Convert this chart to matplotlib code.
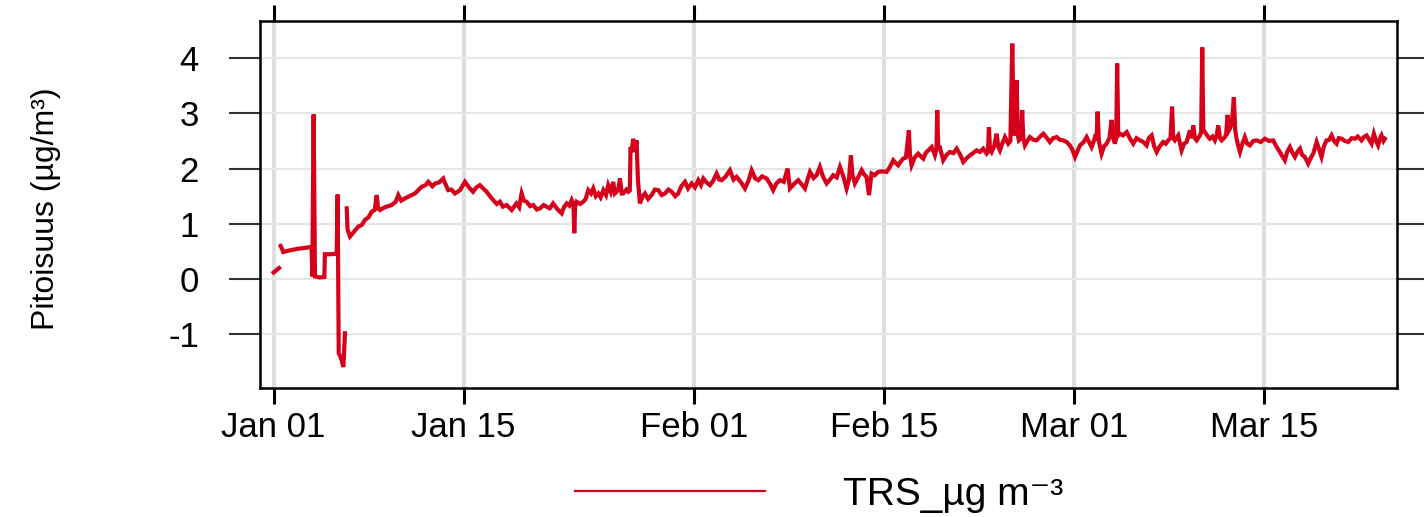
import numpy as np
import pandas as pd
import matplotlib
matplotlib.use("Agg")
import matplotlib.pyplot as plt
import matplotlib.dates as mdates
from matplotlib.lines import Line2D

# --- data (days after Jan 01, concentration) -----------------------------
start = "2021-01-01"
days = [
    0.0, 0.2, 0.4, 0.46,
    0.52, 0.62, 0.71, 1.0, 1.4, 1.8, 2.2, 2.68, 2.8, 2.85, 2.95, 3.05, 3.4, 3.74, 3.78, 4.2,
    4.65, 4.72, 4.80, 5.0, 5.14, 5.26, 5.32,
    5.39, 5.45, 5.63, 5.9, 6.24, 6.5, 6.73, 7.0, 7.23, 7.45, 7.6, 7.7, 7.84, 8.2, 8.7, 9.0,
    9.19, 9.4, 9.68, 10.0, 10.42, 10.7, 10.91, 11.2, 11.4, 11.7, 11.9, 12.2, 12.5, 12.7, 12.87,
    13.1, 13.37, 13.74, 14.1, 14.4, 14.7, 14.95, 15.2, 15.45, 15.7, 15.95, 16.19, 16.45, 16.68,
    16.9, 17.18, 17.55, 17.9, 18.1, 18.28, 18.45, 18.65, 18.9, 19.14, 19.4, 19.63, 19.9, 20.13,
    20.35, 20.6, 20.9, 21.23, 21.4, 21.6, 21.8, 21.97, 22.1, 22.16, 22.22, 22.33, 22.6, 22.82,
    23.0, 23.19, 23.4, 23.56, 23.75, 23.93, 24.1, 24.3, 24.5, 24.66, 24.85, 25.03, 25.15, 25.28,
    25.4, 25.53, 25.65, 25.77, 26.0, 26.14, 26.25, 26.31, 26.4, 26.5, 26.65, 26.75, 26.85, 27.0,
    27.2, 27.37, 27.6, 27.86, 28.1, 28.35, 28.6, 28.84, 29.1, 29.34, 29.6, 29.82, 30.05, 30.32,
    30.55, 30.81, 31.05, 31.3, 31.5, 31.67, 31.9, 32.16, 32.4, 32.65, 32.85, 33.02, 33.3, 33.63,
    33.9, 34.13, 34.45, 34.74, 35.0, 35.23, 35.5, 35.72, 36.0, 36.34, 36.6, 36.82, 37.05, 37.32,
    37.6, 37.88, 38.05, 38.35, 38.67, 38.9, 39.16, 39.35, 39.53, 39.8, 40.02, 40.26, 40.5, 40.76,
    41.0, 41.24, 41.5, 41.74, 42.0, 42.23, 42.4, 42.55, 42.65, 42.84, 43.1, 43.34, 43.5, 43.7,
    43.88, 44.07, 44.3, 44.56, 44.9, 45.18, 45.4, 45.67, 45.85, 46.03, 46.2, 46.4, 46.6, 46.82,
    46.9, 47.02, 47.25, 47.51, 47.7, 47.88, 48.05, 48.25, 48.5, 48.74, 48.85, 48.91, 48.98, 49.1,
    49.35, 49.6, 49.84, 50.1, 50.34, 50.6, 50.83, 51.05, 51.32, 51.55, 51.81, 52.05, 52.3, 52.55,
    52.65, 52.72, 52.8, 52.92, 53.1, 53.29, 53.4, 53.53, 53.7, 53.9, 54.14, 54.3, 54.44, 54.55,
    54.65, 54.76, 54.85, 54.93, 55.1, 55.17, 55.25, 55.37, 55.55, 55.74, 56.0, 56.23, 56.5, 56.73,
    57.0, 57.21, 57.45, 57.71, 57.95, 58.19, 58.45, 58.68, 58.85, 59.06, 59.25, 59.43, 59.7, 59.92,
    60.1, 60.29, 60.45, 60.53, 60.65, 60.73, 60.82, 61.02, 61.2, 61.39, 61.6, 61.76, 61.9, 62.0,
    62.1, 62.17, 62.25, 62.37, 62.6, 62.87, 63.1, 63.35, 63.6, 63.85, 64.1, 64.34, 64.5, 64.71,
    64.9, 65.08, 65.3, 65.56, 65.75, 65.93, 66.1, 66.22, 66.3, 66.42, 66.67, 66.92, 67.1, 67.29,
    67.53, 67.65, 67.78, 67.9, 68.03, 68.27, 68.36, 68.44, 68.52, 68.64, 68.8, 69.0, 69.2, 69.37,
    69.5, 69.62, 69.75, 69.87, 70.11, 70.2, 70.31, 70.42, 70.53, 70.65, 70.77, 70.87, 70.97, 71.1,
    71.22, 71.4, 71.58, 71.75, 71.95, 72.2, 72.45, 72.75, 73.06, 73.35, 73.67, 73.9, 74.16, 74.35,
    74.53, 74.7, 74.9, 75.1, 75.27, 75.45, 75.64, 75.8, 76.0, 76.25, 76.45, 76.62, 76.87, 77.05,
    77.23, 77.4, 77.6, 77.8, 77.97, 78.15, 78.34, 78.5, 78.71, 78.95, 79.2, 79.45, 79.69, 79.9,
    80.18, 80.35, 80.55, 80.75, 80.92, 81.09, 81.25, 81.4, 81.55, 81.65, 81.8, 81.9,
]
trs = [
    0.12, 0.16, 0.20, np.nan,
    0.60, 0.55, 0.49, 0.51, 0.53, 0.55, 0.56, 0.58, 0.58, 0.05, 2.98, 0.05, 0.03, 0.04, 0.45, 0.45,
    0.46, 1.53, -1.34, -1.45, -1.59, -0.98, np.nan,
    1.28, 0.90, 0.77, 0.85, 0.95, 0.98, 1.07, 1.12, 1.22, 1.25, 1.52, 1.28, 1.25, 1.30, 1.34, 1.40,
    1.52, 1.42, 1.46, 1.50, 1.55, 1.62, 1.67, 1.70, 1.76, 1.68, 1.73, 1.75, 1.82, 1.70, 1.61,
    1.62, 1.55, 1.61, 1.76, 1.66, 1.58, 1.66, 1.70, 1.64, 1.58, 1.50, 1.43, 1.36, 1.40,
    1.31, 1.34, 1.25, 1.37, 1.30, 1.55, 1.42, 1.40, 1.32, 1.34, 1.26, 1.28, 1.34, 1.31,
    1.28, 1.37, 1.27, 1.19, 1.30, 1.37, 1.33, 1.43, 1.35, 0.83, 1.30, 1.40, 1.36, 1.40,
    1.45, 1.61, 1.55, 1.64, 1.50, 1.55, 1.48, 1.61, 1.52, 1.70, 1.58, 1.76, 1.55, 1.58,
    1.62, 1.82, 1.55, 1.55, 1.62, 1.58, 1.60, 2.39, 2.30, 2.54, 2.30, 2.51, 1.80, 1.37,
    1.50, 1.55, 1.45, 1.52, 1.62, 1.61, 1.52, 1.55, 1.62, 1.58, 1.50, 1.55, 1.68, 1.76,
    1.64, 1.73, 1.66, 1.79, 1.70, 1.82, 1.75, 1.70, 1.78, 1.91, 1.80, 1.79, 1.85, 1.97,
    1.80, 1.85, 1.75, 1.64, 1.78, 1.97, 1.82, 1.79, 1.86, 1.82, 1.72, 1.61, 1.73, 1.79,
    1.76, 2.00, 1.64, 1.72, 1.79, 1.72, 1.64, 1.80, 1.94, 1.83, 1.88, 2.03, 1.85, 1.73,
    1.80, 1.88, 1.84, 2.03, 1.85, 1.64, 1.80, 2.24, 1.90, 1.73, 1.85, 1.97, 1.90, 1.85,
    1.52, 1.91, 1.88, 1.94, 1.95, 1.94, 2.02, 2.15, 2.10, 2.06, 2.12, 2.18, 2.20, 2.69,
    2.25, 2.06, 2.20, 2.27, 2.22, 2.18, 2.28, 2.33, 2.39, 2.24, 2.35, 3.06, 2.40, 2.39,
    2.15, 2.25, 2.30, 2.28, 2.36, 2.25, 2.12, 2.18, 2.24, 2.28, 2.33, 2.30, 2.36, 2.27,
    2.30, 2.75, 2.35, 2.30, 2.40, 2.63, 2.40, 2.33, 2.45, 2.57, 2.45, 2.50, 4.26, 2.60,
    2.80, 3.60, 2.60, 2.51, 2.55, 3.06, 2.55, 2.42, 2.50, 2.57, 2.52, 2.51, 2.58, 2.63,
    2.55, 2.48, 2.55, 2.57, 2.52, 2.51, 2.48, 2.42, 2.35, 2.21, 2.32, 2.42, 2.48, 2.57,
    2.48, 2.39, 2.50, 2.57, 2.55, 3.03, 2.50, 2.27, 2.40, 2.45, 2.55, 2.88, 2.55, 2.45,
    2.55, 3.90, 2.60, 2.63, 2.60, 2.66, 2.55, 2.45, 2.55, 2.51, 2.48, 2.42, 2.55, 2.60,
    2.40, 2.30, 2.40, 2.48, 2.45, 2.51, 2.55, 3.12, 2.55, 2.51, 2.60, 2.33, 2.45, 2.48,
    2.69, 2.55, 2.78, 2.55, 2.51, 2.60, 2.65, 4.19, 2.70, 2.66, 2.60, 2.54, 2.58, 2.51,
    2.60, 2.78, 2.55, 2.51, 2.57, 2.62, 2.97, 2.70, 2.75, 2.90, 3.29, 2.70, 2.54, 2.40,
    2.30, 2.45, 2.57, 2.45, 2.42, 2.50, 2.51, 2.48, 2.54, 2.50, 2.51, 2.40, 2.30, 2.22,
    2.15, 2.30, 2.39, 2.28, 2.21, 2.30, 2.36, 2.25, 2.21, 2.09, 2.20, 2.27, 2.48, 2.35,
    2.21, 2.40, 2.51, 2.52, 2.60, 2.50, 2.45, 2.55, 2.54, 2.50, 2.48, 2.55, 2.54, 2.58,
    2.51, 2.57, 2.60, 2.52, 2.45, 2.63, 2.50, 2.42, 2.55, 2.60, 2.50, 2.54,
]
tick_dates = ["2021-01-01", "2021-01-15", "2021-02-01", "2021-02-15", "2021-03-01", "2021-03-15"]
y_ticks = [-1, 0, 1, 2, 3, 4]

RED = "#d7001b"

plt.rcParams["font.family"] = ["Liberation Sans", "DejaVu Sans"]
plt.rcParams["axes.unicode_minus"] = False

times = pd.Timestamp(start) + pd.to_timedelta(np.array(days), unit="D")

fig = plt.figure(figsize=(14.24, 5.17), dpi=100)
ax = fig.add_axes([0.1826, 0.2495, 0.7985, 0.7099])

ax.plot(times, trs, color=RED, lw=3.0, solid_joinstyle="miter")

ax.set_xlim(pd.Timestamp(start) - pd.Timedelta(days=1.0), pd.Timestamp(start) + pd.Timedelta(days=82.8))
ax.set_ylim(-1.97, 4.67)

ax.set_xticks(pd.to_datetime(tick_dates))
ax.xaxis.set_major_formatter(mdates.DateFormatter("%b %d"))
ax.set_yticks(y_ticks)

ax.grid(axis="x", color="#dedede", lw=3.0)
ax.grid(axis="y", color="#e6e6e6", lw=1.6)
ax.set_axisbelow(True)

for s in ax.spines.values():
    s.set_linewidth(1.8)
    s.set_color("black")

ax.tick_params(axis="x", which="both", direction="out", length=11.5, width=2.2,
               top=True, labeltop=False, labelsize=25, pad=5, colors="black")
ax.tick_params(axis="y", which="both", direction="out", length=22, width=1.5,
               right=True, labelright=False, labelsize=25, pad=22, colors="#333333",
               labelcolor="black")

fig.text(0.032, 0.596, "Pitoisuus (µg/m³)", rotation=90, ha="center", va="center",
         fontsize=23)

handle = Line2D([], [], color=RED, lw=1.6)
fig.legend([handle], ["TRS_µg m⁻³"], loc="center", bbox_to_anchor=(0.575, 0.043),
           frameon=False, handlelength=4.9, handletextpad=2.0,
           prop={"family": ["Liberation Sans", "DejaVu Sans"], "size": 28})

fig.savefig("out.png", dpi=100)
